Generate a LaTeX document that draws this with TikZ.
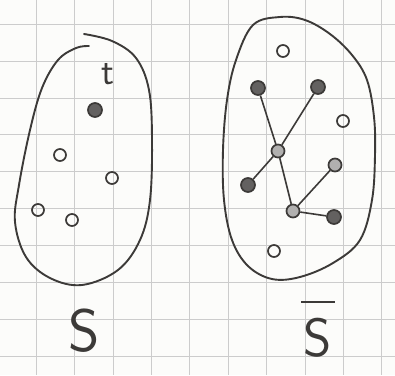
\documentclass[tikz,border=0pt]{standalone}
\usepackage{tikz}
\usetikzlibrary{positioning,calc}
\definecolor{ink}{RGB}{60,58,56}
\definecolor{paper}{RGB}{252,252,250}

\begin{document}
\begin{tikzpicture}[
    x=1pt, y=-1pt,
    pen/.style={draw=ink, line width=1.9pt, line cap=round},
    vertex/.style={circle, draw=ink, line width=1.7pt, inner sep=0pt, minimum size=12pt},
    full/.style={vertex, fill=ink!80, minimum size=14pt},
    hub/.style={vertex, fill=ink!40, minimum size=13pt},
    edge/.style={draw=ink, line width=1.6pt},
    lbl/.style={text=ink, font=\sffamily, inner sep=0pt}
  ]
    % squared paper
    \fill[paper] (0,0) rectangle (395,375);
    \useasboundingbox (0,0) rectangle (395,375);
    \foreach \k in {0,...,9} {
      \draw[black!20, line width=0.6pt] ({36+38.4*\k},0) -- ({36+38.4*\k},375);
      \draw[black!20, line width=0.6pt] (0,{24+36.9*\k}) -- (395,{24+36.9*\k});
    }

    % set S
    \draw[pen] plot[smooth, tension=0.6] coordinates {
      (84,34) (112,41) (136,58) (149,90) (152,140) (150,200) (140,240)
      (118,270) (82,285) (50,278) (26,257) (15,222) (19,185) (30,130)
      (42,88) (58,60) (76,48) (89,46)};
    \node[lbl, font=\sffamily\fontsize{38}{38}\selectfont] (tlbl) at (108,74) {t};
    \node[full] (t) at (95,110) {};
    \foreach \n/\x/\y in {a/60/155, b/112/178, c/38/210, d/72/220} {
      \node[vertex] (\n) at (\x,\y) {};
    }
    \node[lbl, font=\sffamily\fontsize{60}{60}\selectfont] (S) at (84,331) {S};

    % complement of S
    \draw[pen] plot[smooth cycle, tension=0.6] coordinates {
      (253,25) (280,17) (305,20) (330,34) (352,55) (367,80) (374,117)
      (375,155) (372,200) (360,240) (333,263) (300,277) (272,279)
      (248,266) (232,240) (224,200) (223,150) (227,100) (236,60)};
    \foreach \n/\x/\y in {o1/283/51, o2/343/121, o3/274/251} {
      \node[vertex] (\n) at (\x,\y) {};
    }
    \node[full] (p1) at (258,88) {};
    \node[full] (p2) at (318,87) {};
    \node[full] (p3) at (248,185) {};
    \node[hub]  (p4) at (335,165) {};
    \node[full] (p5) at (334,217) {};
    \node[hub]  (h1) at (278,151) {};
    \node[hub]  (h2) at (293,211) {};
    \foreach \u/\v in {h1/p1, h1/p2, h1/p3, h1/h2, h2/p4, h2/p5} {
      \draw[edge] (\u) -- (\v);
    }
    \node[lbl, align=center, font=\sffamily\fontsize{54}{54}\selectfont] (Sbar) at (318,329)
      {\textcolor{ink}{\rule{34pt}{1.9pt}}\\S};
  \end{tikzpicture}
\end{document}
